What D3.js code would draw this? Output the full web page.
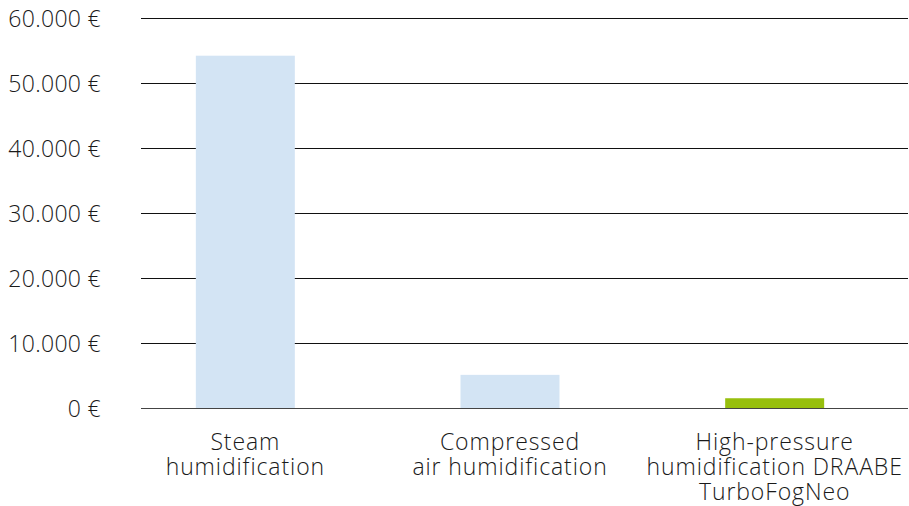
<!DOCTYPE html>
<html>
<head>
<meta charset="utf-8">
<script src="https://cdn.jsdelivr.net/npm/d3@7"></script>
<style>
    body { margin: 0; background: #fff; }
    text { font-family: "Open Sans", "Noto Sans", sans-serif; font-weight: 320; fill: #1a1a1a; }
</style>
</head>
<body>
<div id="chart"></div>
<script>
var categories = [
    ["Steam", "humidification"],
    ["Compressed", "air humidification"],
    ["High-pressure", "humidification DRAABE", "TurboFogNeo"]
];
var costs = [54200, 5100, 1500];
var barColors = ["#d3e4f4", "#d3e4f4", "#97bf0d"];
var yTicks = [0, 10000, 20000, 30000, 40000, 50000, 60000];

var svgWidth = 909;
var svgHeight = 506;

var svg = d3.select("#chart")
    .append("svg")
    .attr("width", svgWidth)
    .attr("height", svgHeight);

var x = d3.scaleBand()
    .domain(d3.range(costs.length))
    .range([113, 907])
    .paddingInner(0.626)
    .paddingOuter(0.313);

var y = d3.scaleLinear()
    .domain([0, 60000])
    .range([408, 18]);

// gridlines
svg.append("g")
    .selectAll("line")
    .data(yTicks)
    .enter()
    .append("line")
    .attr("x1", 141)
    .attr("x2", 908)
    .attr("y1", d => Math.round(y(d)) + 0.5)
    .attr("y2", d => Math.round(y(d)) + 0.5)
    .attr("stroke", d => d === 0 ? "#444" : "#111")
    .attr("stroke-width", 1.2);

// y tick labels
var fmt = d => d3.format(",")(d).replace(/,/g, ".") + " €";
svg.append("g")
    .selectAll("text")
    .data(yTicks)
    .enter()
    .append("text")
    .attr("x", 101)
    .attr("y", d => y(d) + 8.5)
    .attr("text-anchor", "end")
    .style("font-size", "23px")
    .style("letter-spacing", "0.3px")
    .text(fmt);

// bars
svg.append("g")
    .selectAll("rect")
    .data(costs)
    .enter()
    .append("rect")
    .attr("x", (d, i) => x(i))
    .attr("width", x.bandwidth())
    .attr("y", d => y(d))
    .attr("height", d => y(0) - y(d))
    .attr("fill", (d, i) => barColors[i]);

// category labels
var catText = svg.append("g")
    .selectAll("text")
    .data(categories)
    .enter()
    .append("text")
    .attr("text-anchor", "middle")
    .style("font-size", "23px")
    .style("letter-spacing", "0.9px");

catText.selectAll("tspan")
    .data((d, i) => d.map(s => ({ s: s, i: i })))
    .enter()
    .append("tspan")
    .attr("x", d => x(d.i) + x.bandwidth() / 2)
    .attr("y", (d, j) => 450 + j * 25)
    .text(d => d.s);
</script>
</body>
</html>
